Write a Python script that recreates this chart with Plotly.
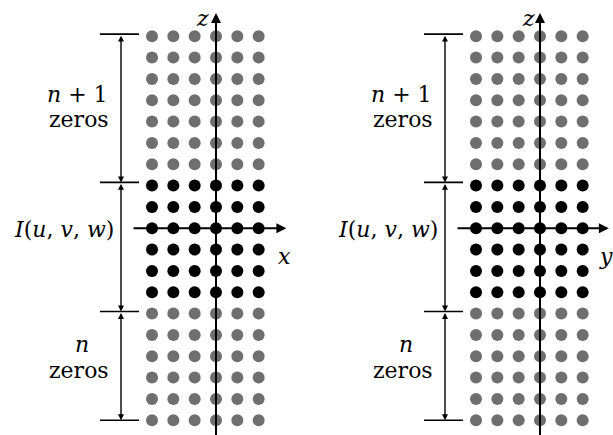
import plotly.graph_objects as go

# ---- data (grid indices in units of one sample spacing) ----
columns = [-3, -2, -1, 0, 1, 2]
upper_zero_rows = [9, 8, 7, 6, 5, 4, 3]          # n + 1 zeros
image_rows = [2, 1, 0, -1, -2, -3]               # I(u, v, w)
lower_zero_rows = [-4, -5, -6, -7, -8, -9]       # n zeros
bracket_ticks = [9.1, 2.15, -3.9, -9.0]
horizontal_axis_labels = ["x", "y"]
vertical_axis_label = "z"
upper_label = ["<i>n</i> + 1", "zeros"]
image_label = "<i>I</i>(<i>u</i>, <i>v</i>, <i>w</i>)"
lower_label = ["<i>n</i>", "zeros"]

# ---- styling / geometry ----
S = 21.33                 # pixels per grid unit
W, H = 613, 435
ORIGIN_PX = [216, 540]    # pixel x of z axis in each panel
Z0_PX = 228.25            # pixel y of horizontal axis
GRAY = "#6f6f6f"
BLACK = "#000000"
FONT = "DejaVu Serif"
FS = 22

fig = go.Figure()
axes = [("x", "y"), ("x2", "y2")]
for xa, ya in axes:
    for rows, color in [(upper_zero_rows, GRAY), (image_rows, BLACK), (lower_zero_rows, GRAY)]:
        xs = [c for r in rows for c in columns]
        ys = [r for r in rows for c in columns]
        fig.add_trace(go.Scatter(x=xs, y=ys, mode="markers", xaxis=xa, yaxis=ya,
                                 marker=dict(size=12, color=color, line=dict(width=0)),
                                 showlegend=False, hoverinfo="skip"))

annotations = []
shapes = []


def arrow(xr, yr, x0, y0, x1, y1, width, size, both=False):
    d = dict(x=x1, y=y1, ax=x0, ay=y0, xref=xr, yref=yr, axref=xr, ayref=yr,
             text="", showarrow=True, arrowhead=2, arrowsize=size, arrowwidth=width,
             arrowcolor="black", standoff=0, startstandoff=0)
    if both:
        d.update(arrowside="end+start", startarrowhead=2, startarrowsize=size)
    return d


def text(xr, yr, x, y, t, size=FS):
    return dict(x=x, y=y, xref=xr, yref=yr, text=t, showarrow=False,
                font=dict(family=FONT, size=size, color="black"),
                xanchor="center", yanchor="middle")


for p, (xa, ya) in enumerate(axes):
    tip = 3.3 if p == 0 else 3.23
    # horizontal axis
    annotations.append(arrow(xa, ya, -84 / S, 0, tip, 0, 2, 1.0))
    # vertical axis
    annotations.append(arrow(xa, ya, 0, -(H - Z0_PX + 5) / S, 0, (Z0_PX - 13) / S, 2, 1.0))
    # bracket segments
    bx = -95 / S
    for a, b in zip(bracket_ticks[:-1], bracket_ticks[1:]):
        annotations.append(arrow(xa, ya, bx, a, bx, b, 1.4, 0.85, both=True))
    for t in bracket_ticks:
        shapes.append(dict(type="line", xref=xa, yref=ya, x0=-116 / S, x1=-77 / S, y0=t, y1=t,
                           line=dict(color="black", width=1.6)))
    # labels
    annotations.append(text(xa, ya, -139 / S, (Z0_PX - 94) / S, upper_label[0]))
    annotations.append(text(xa, ya, -137 / S, (Z0_PX - 119) / S, upper_label[1]))
    annotations.append(text(xa, ya, -152 / S, (Z0_PX - 229) / S, image_label))
    annotations.append(text(xa, ya, -134.5 / S, (Z0_PX - 344) / S, lower_label[0]))
    annotations.append(text(xa, ya, -137.5 / S, (Z0_PX - 370) / S, lower_label[1]))
    annotations.append(text(xa, ya, (68 if p == 0 else 66) / S, (Z0_PX - 256) / S,
                            "<i>%s</i>" % horizontal_axis_labels[p], 22))
    annotations.append(text(xa, ya, (-14 if p == 0 else -12) / S, (Z0_PX - 18) / S,
                            "<i>%s</i>" % vertical_axis_label, 22))

half = W / 2
yrange = [-(H - Z0_PX) / S, Z0_PX / S]
fig.update_layout(
    width=W, height=H, margin=dict(l=0, r=0, t=0, b=0),
    paper_bgcolor="white", plot_bgcolor="white",
    xaxis=dict(domain=[0, 0.5], range=[-ORIGIN_PX[0] / S, (half - ORIGIN_PX[0]) / S],
               visible=False, anchor="y"),
    xaxis2=dict(domain=[0.5, 1], range=[-(ORIGIN_PX[1] - half) / S, (W - ORIGIN_PX[1]) / S],
                visible=False, anchor="y2"),
    yaxis=dict(domain=[0, 1], range=yrange, visible=False, anchor="x"),
    yaxis2=dict(domain=[0, 1], range=yrange, visible=False, anchor="x2"),
    annotations=annotations, shapes=shapes,
)
fig.write_html("out.html", config={"displayModeBar": False},
               post_script="document.body.style.margin='0';")
